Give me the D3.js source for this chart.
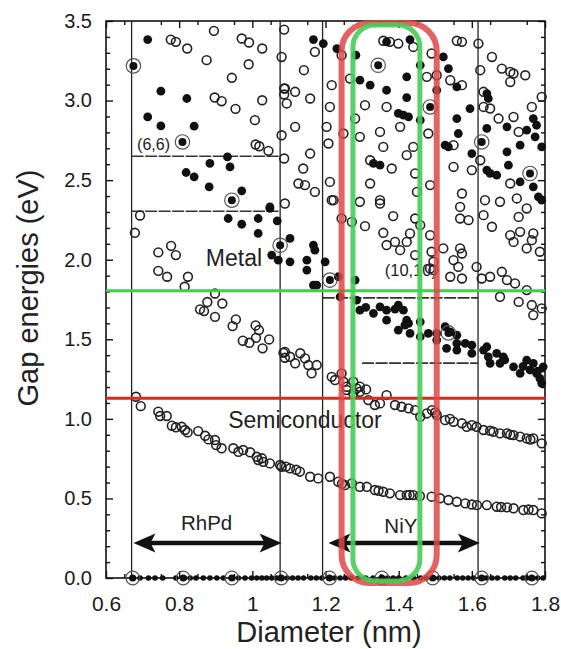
<!DOCTYPE html>
<html><head><meta charset="utf-8">
<script src="https://cdn.jsdelivr.net/npm/d3@7"></script>
<style>body{margin:0;background:#fff}svg{display:block}text{font-family:"Liberation Sans",Arial,sans-serif}</style>
</head><body><svg id="c" width="561" height="649"></svg>
<script>
// ---- data (diameter nm, gap eV) ----
const xTicks = [0.6,0.8,1.0,1.2,1.4,1.6,1.8];
const xTickLabels = ["0.6","0.8","1","1.2","1.4","1.6","1.8"];
const yTicks = [0,0.5,1,1.5,2,2.5,3,3.5];
const yTickLabels = ["0.0","0.5","1.0","1.5","2.0","2.5","3.0","3.5"];

const openPts = [
[0.777,3.383],[0.791,3.369],[0.822,3.327],[0.895,3.438],[0.971,3.390],[0.991,3.365],[1.027,3.327],[0.875,3.254],[0.990,3.228],[0.944,3.143],
[0.897,3.019],[0.916,2.996],[1.027,3.002],[0.954,2.948],[1.007,2.877],[1.009,2.724],[1.019,2.713],[1.044,2.684],[1.080,3.274],[1.087,3.446],
[1.087,3.076],[1.087,3.038],[1.094,2.982],[1.080,2.782],[1.087,2.636],[0.693,2.278],[0.679,2.169],[0.743,2.046],[0.778,2.087],[0.791,2.029],
[0.743,1.930],[0.767,1.893],[0.824,1.893],[0.815,1.830],[0.898,1.788],[0.877,1.734],[0.918,1.725],[0.857,1.688],[0.868,1.677],[0.898,1.641],
[0.955,1.625],[0.946,1.583],[1.009,1.587],[1.018,1.558],[0.974,1.491],[0.992,1.478],[1.010,1.509],[1.046,1.499],[1.028,1.443],[1.085,1.415],
[1.089,1.384],
[0.682,1.139],[0.695,1.080],[0.743,1.045],[0.748,1.018],[0.766,1.018],[0.780,0.957],[0.791,0.947],[0.807,0.950],[0.823,0.915],[0.816,0.930],
[0.852,0.923],[0.871,0.894],[0.880,0.871],[0.898,0.867],[0.901,0.835],[0.916,0.815],[0.948,0.815],[0.962,0.793],[0.975,0.804],[0.994,0.790],
[1.012,0.762],[1.026,0.752],[1.030,0.730],[1.048,0.720],[1.016,0.741],[1.080,0.699],
[1.089,1.421],[1.103,1.390],[1.117,1.349],[1.131,1.412],[1.144,1.380],[1.153,1.338],[1.162,1.286],[1.176,1.338],
[1.217,1.264],[1.226,1.244],[1.244,1.286],[1.249,1.233],[1.258,1.202],[1.276,1.233],[1.285,1.191],[1.294,1.202],[1.311,1.185],
[1.258,1.181],[1.276,1.160],[1.294,1.170],[1.317,1.118],[1.335,1.087],[1.349,1.097],[1.367,1.149],[1.390,1.087],[1.408,1.076],[1.427,1.066],
[1.445,1.055],[1.459,1.013],[1.477,1.034],[1.491,1.055],[1.504,1.024],[1.527,0.992],[1.550,0.982],[1.573,0.972],[1.586,0.950],[1.613,0.950],
[1.632,0.930],[1.659,0.919],[1.677,0.909],[1.696,0.909],[1.714,0.898],[1.732,0.888],[1.750,0.877],[1.768,0.877],[1.791,0.846],
[1.500,1.040],[1.540,1.000],[1.600,0.960],[1.650,0.925],[1.705,0.900],[1.760,0.870],
[1.076,0.710],[1.103,0.689],[1.130,0.668],[1.158,0.636],[1.180,0.626],[1.212,0.636],[1.235,0.605],[1.253,0.584],[1.272,0.595],[1.294,0.573],
[1.313,0.573],[1.335,0.553],[1.358,0.542],[1.376,0.532],[1.404,0.521],[1.422,0.521],[1.440,0.521],[1.458,0.515],[1.490,0.511],[1.513,0.501],
[1.536,0.490],[1.559,0.479],[1.582,0.469],[1.614,0.458],[1.641,0.458],[1.668,0.448],[1.696,0.444],[1.714,0.438],[1.741,0.427],[1.768,0.427],
[1.791,0.406],[1.092,0.700],[1.120,0.680],[1.245,0.592],[1.345,0.548],[1.430,0.522],[1.600,0.462],[1.680,0.446],[1.755,0.430],
[1.222,2.374],[1.244,2.259],[1.272,2.238],[1.308,2.211],[1.294,2.364],[1.349,2.353],[1.385,2.274],[1.358,2.169],[1.367,2.092],[1.390,2.112],
[1.404,2.060],[1.422,2.112],[1.431,2.165],[1.445,2.259],[1.459,2.217],[1.445,2.029],[1.486,2.154],[1.490,2.050],[1.495,1.987],[1.495,1.935],
[1.522,2.071],[1.550,1.997],[1.541,1.893],[1.563,1.955],[1.568,2.071],[1.573,2.039],[1.573,1.882],[1.568,2.332],[1.568,2.259],[1.591,2.249],
[1.613,1.955],[1.632,2.280],[1.627,1.882],[1.650,1.893],[1.655,2.207],[1.677,1.767],[1.682,1.924],[1.696,1.872],[1.705,2.154],[1.714,2.112],
[1.728,2.269],[1.732,2.175],[1.718,1.851],[1.728,1.735],[1.750,1.809],[1.750,2.071],[1.764,2.123],[1.768,2.165],[1.764,1.715],[1.768,1.652],
[1.786,2.050],[1.791,1.694],[1.486,1.945],[1.089,2.353],
[1.171,3.306],[1.141,3.191],[1.089,3.076],[1.117,3.055],[1.158,3.013],[1.117,2.835],[1.158,2.667],[1.139,2.573],[1.126,2.479],[1.144,2.469],
[1.171,2.426],[1.217,3.097],[1.212,2.960],[1.203,2.835],[1.208,2.730],[1.212,2.489],[1.217,2.374],[1.244,3.285],[1.249,2.793],[1.267,3.138],
[1.281,2.887],[1.294,2.772],[1.308,2.971],[1.322,2.625],[1.322,2.479],[1.349,2.803],[1.349,2.374],[1.358,3.376],[1.376,3.369],[1.399,3.358],
[1.404,2.835],[1.358,2.709],[1.367,2.960],[1.381,2.573],[1.422,2.657],[1.440,3.337],[1.440,2.709],[1.445,2.542],[1.450,2.426],[1.477,3.149],
[1.481,2.793],[1.490,3.296],[1.486,2.469],[1.504,3.159],[1.541,3.128],[1.573,3.097],[1.559,3.376],[1.573,3.369],[1.550,2.720],[1.550,2.583],
[1.573,2.416],[1.600,2.563],[1.618,3.358],[1.623,3.191],[1.632,3.055],[1.632,2.960],[1.623,2.625],[1.636,2.374],[1.655,3.274],[1.682,3.201],
[1.705,3.180],[1.714,3.170],[1.746,3.159],[1.705,3.117],[1.650,2.950],[1.673,2.887],[1.714,2.897],[1.728,2.803],[1.764,2.960],[1.791,3.023],
[1.677,2.364],[1.723,2.385],[1.750,2.322],[1.705,2.479]
];

const filledPts = [
[0.714,3.383],[0.750,3.059],[0.821,3.013],[0.714,2.897],[0.750,2.841],[0.841,2.839],[0.819,2.548],[0.841,2.521],[0.884,2.605],[0.939,2.583],
[0.882,2.458],[0.971,2.433],[1.048,2.322],[0.932,2.646],[0.934,2.259],[0.971,2.223],[1.016,2.259],[1.016,2.165],[1.068,2.244],[1.048,2.332],
[1.053,2.029],[1.071,1.997],
[1.103,2.134],[1.103,1.987],[1.149,1.997],[1.149,1.935],[1.167,2.092],[1.171,2.060],[1.199,1.987],[1.167,1.840],[1.176,1.840],[1.235,1.893],
[1.240,1.767],[1.281,1.872],[1.285,1.746],[1.294,1.683],[1.331,1.663],[1.349,1.704],[1.367,1.683],[1.367,1.620],[1.399,1.715],[1.413,1.683],
[1.422,1.620],[1.417,1.589],[1.431,1.537],[1.399,1.558],[1.459,1.610],[1.459,1.516],[1.481,1.537],[1.504,1.537],[1.504,1.495],[1.527,1.579],
[1.531,1.443],[1.541,1.547],[1.559,1.526],[1.559,1.474],[1.559,1.432],[1.582,1.474],[1.600,1.463],[1.600,1.411],[1.632,1.432],[1.641,1.453],
[1.645,1.390],[1.650,1.349],[1.668,1.411],[1.686,1.390],[1.677,1.349],[1.714,1.327],[1.732,1.286],[1.750,1.369],[1.759,1.307],[1.768,1.349],
[1.777,1.286],[1.786,1.254],[1.795,1.327],[1.791,1.223],[1.310,1.700],[1.390,1.690],[1.427,1.600],[1.690,1.370],[1.740,1.330],[1.780,1.300],
[1.167,3.383],[1.194,3.358],[1.231,3.327],[1.283,3.285],[1.294,3.128],[1.322,3.097],[1.367,3.065],[1.422,3.149],[1.422,3.019],[1.367,3.369],
[1.431,3.383],[1.459,3.222],[1.399,2.919],[1.413,2.908],[1.427,2.897],[1.459,2.877],[1.504,3.065],[1.522,3.274],[1.536,3.201],[1.559,3.086],
[1.559,2.887],[1.563,2.793],[1.595,2.950],[1.600,2.667],[1.527,2.720],[1.536,2.709],[1.331,2.605],[1.349,2.594],[1.641,3.044],[1.645,3.013],
[1.641,2.825],[1.641,2.563],[1.650,2.542],[1.668,2.531],[1.696,2.678],[1.700,2.594],[1.696,2.835],[1.732,2.720],[1.732,2.489],[1.750,2.814],
[1.773,2.772],[1.768,2.458],[1.782,2.395],[1.791,2.709],[1.791,2.374],[1.777,2.845],[1.768,2.887]
];

const circledPts = [[0.675,3.218],[0.809,2.740],[0.944,2.374],[1.076,2.091],[1.212,1.872],[1.344,3.222],[1.486,2.960],[1.627,2.740],[1.759,2.542],[1.536,1.540]];

const zeroDots = [0.673,0.693,0.716,0.734,0.755,0.791,0.814,0.830,0.846,0.866,0.884,0.903,0.921,0.944,0.962,0.980,0.998,1.012,1.026,1.039,1.053,1.067,1.078,
1.095,1.110,1.125,1.140,1.160,1.175,1.190,1.225,1.240,1.255,1.270,1.290,1.310,1.330,1.370,1.385,1.400,1.420,1.440,1.460,1.475,1.510,1.525,1.540,
1.560,1.575,1.590,1.605,1.640,1.655,1.670,1.690,1.705,1.720,1.740,1.750,1.780,1.795];
const zeroCircled = [0.673,0.811,0.944,1.079,1.211,1.354,1.493,1.627,1.764];

const vLines = [0.670,1.076,1.192,1.617];
const hSegs = [[0.670,1.076,2.65],[0.670,1.076,2.305],[1.192,1.617,1.76],[1.30,1.617,1.35]];
const greenLevel = 1.805, redLevel = 1.13;
const redBox = [1.244,1.504], greenBox = [1.275,1.458];
const arrows = [[0.675,1.080],[1.208,1.622]];

// ---- drawing ----
const svg = d3.select("#c");
const L=106,R=545,T=21,B=578;
const x = d3.scaleLinear().domain([0.6,1.8]).range([L,R]);
const y = d3.scaleLinear().domain([0,3.5]).range([B,T]);

svg.append("rect").attr("x",L).attr("y",T).attr("width",R-L).attr("height",B-T)
  .attr("fill","none").attr("stroke","#111").attr("stroke-width",1.6);

const minorX = d3.range(12).map(i=>0.65+i*0.1);
svg.append("g").attr("transform",`translate(0,${B})`)
  .call(d3.axisBottom(x).tickValues(xTicks).tickSize(-7).tickPadding(18)
    .tickFormat((d,i)=>xTickLabels[i])).attr("class","ax lab x");
svg.append("g").attr("transform",`translate(0,${B})`)
  .call(d3.axisBottom(x).tickValues(minorX).tickSize(-4).tickFormat(""));
svg.append("g").attr("transform",`translate(0,${T})`)
  .call(d3.axisTop(x).tickValues(xTicks).tickSize(-7).tickFormat(""));
svg.append("g").attr("transform",`translate(0,${T})`)
  .call(d3.axisTop(x).tickValues(minorX).tickSize(-4).tickFormat(""));
svg.append("g").attr("transform",`translate(${L},0)`)
  .call(d3.axisLeft(y).tickValues(yTicks).tickSize(-7).tickPadding(14)
    .tickFormat((d,i)=>yTickLabels[i])).attr("class","ax lab y");
const minorY = d3.range(36).map(i=>i*0.1).filter(v=>Math.abs(v*2-Math.round(v*2))>0.01);
svg.append("g").attr("transform",`translate(${L},0)`).call(d3.axisLeft(y).tickValues(minorY).tickSize(-4).tickFormat(""));
svg.append("g").attr("transform",`translate(${R},0)`).call(d3.axisRight(y).tickValues(yTicks).tickSize(-7).tickFormat(""));
svg.append("g").attr("transform",`translate(${R},0)`).call(d3.axisRight(y).tickValues(minorY).tickSize(-4).tickFormat(""));
svg.selectAll(".domain").remove();
svg.selectAll(".tick line").attr("stroke","#111").attr("stroke-width",1.4);
svg.selectAll(".tick text").attr("fill","#1a1a1a").attr("font-family","'Liberation Sans',Arial,sans-serif");
svg.selectAll(".x .tick text").attr("font-size",21);
svg.selectAll(".y .tick text").attr("font-size",20);

svg.selectAll(".vl").data(vLines).enter().append("line")
  .attr("x1",d=>x(d)).attr("x2",d=>x(d)).attr("y1",T).attr("y2",B)
  .attr("stroke","#222").attr("stroke-width",1.3);
svg.selectAll(".hs").data(hSegs).enter().append("line")
  .attr("x1",d=>x(d[0])).attr("x2",d=>x(d[1])).attr("y1",d=>y(d[2])).attr("y2",d=>y(d[2]))
  .attr("stroke","#333").attr("stroke-width",1.6).attr("stroke-dasharray","12,1.5");

svg.selectAll(".op").data(openPts).enter().append("circle")
  .attr("cx",d=>x(d[0])).attr("cy",d=>y(d[1])).attr("r",4.4)
  .attr("fill","none").attr("stroke","#222").attr("stroke-width",1.6);
svg.selectAll(".fp").data(filledPts).enter().append("circle")
  .attr("cx",d=>x(d[0])).attr("cy",d=>y(d[1])).attr("r",4.4).attr("fill","#111");
const cg = svg.selectAll(".cp").data(circledPts).enter().append("g");
cg.append("circle").attr("cx",d=>x(d[0])).attr("cy",d=>y(d[1])).attr("r",7.2)
  .attr("fill","none").attr("stroke","#555").attr("stroke-width",1.2);
cg.append("circle").attr("cx",d=>x(d[0])).attr("cy",d=>y(d[1])).attr("r",4).attr("fill","#111");
svg.selectAll(".zd").data(zeroDots).enter().append("circle")
  .attr("cx",d=>x(d)).attr("cy",y(0)).attr("r",2.8).attr("fill","#111");
svg.selectAll(".zc").data(zeroCircled).enter().append("circle")
  .attr("cx",d=>x(d)).attr("cy",y(0)).attr("r",6.8).attr("fill","none").attr("stroke","#555").attr("stroke-width",1.2);
svg.selectAll(".zc2").data(zeroCircled).enter().append("circle")
  .attr("cx",d=>x(d)).attr("cy",y(0)).attr("r",3.6).attr("fill","#111");

function txt(t,xx,yy,fs,anchor){svg.append("text").attr("x",xx).attr("y",yy).attr("font-size",fs)
  .attr("text-anchor",anchor||"start").attr("fill","#222").text(t);}
txt("(6,6)",x(0.685),y(2.69),16);
txt("Metal",x(0.873),y(1.96),23);
txt("(10,10)",x(1.362),y(1.895),16.5);
txt("Semiconductor",x(0.934),y(0.943),23);
txt("RhPd",x(0.875),y(0.30),20.5,"middle");
txt("NiY",x(1.406),y(0.285),20.5,"middle");

// double-headed arrows
const ay = y(0.22);
arrows.forEach(a=>{
  const x0=x(a[0]), x1=x(a[1]);
  svg.append("line").attr("x1",x0+15).attr("x2",x1-15).attr("y1",ay).attr("y2",ay)
    .attr("stroke","#111").attr("stroke-width",4.5);
  svg.append("path").attr("d",`M${x0},${ay} L${x0+22},${ay-9.5} L${x0+17},${ay} L${x0+22},${ay+9.5} Z`).attr("fill","#111");
  svg.append("path").attr("d",`M${x1},${ay} L${x1-22},${ay-9.5} L${x1-17},${ay} L${x1-22},${ay+9.5} Z`).attr("fill","#111");
});

svg.append("text").attr("x",329).attr("y",642).attr("text-anchor","middle").attr("font-size",29).attr("fill","#222").text("Diameter (nm)");
svg.append("text").attr("transform",`translate(38,288) rotate(-90)`).attr("text-anchor","middle").attr("font-size",29).attr("fill","#222").text("Gap energies (eV)");

svg.append("line").attr("x1",L).attr("x2",R).attr("y1",y(greenLevel)).attr("y2",y(greenLevel)).attr("stroke","#3fcf48").attr("stroke-width",3);
svg.append("line").attr("x1",L).attr("x2",R).attr("y1",y(redLevel)).attr("y2",y(redLevel)).attr("stroke","#d92a1e").attr("stroke-width",3);
svg.append("rect").attr("x",x(redBox[0])).attr("y",T+2).attr("width",x(redBox[1])-x(redBox[0])).attr("height",B+5-T-2)
  .attr("rx",28).attr("fill","none").attr("stroke","rgba(222,70,70,0.85)").attr("stroke-width",6);
svg.append("rect").attr("x",x(greenBox[0])).attr("y",T+4).attr("width",x(greenBox[1])-x(greenBox[0])).attr("height",B+3-T-4)
  .attr("rx",22).attr("fill","none").attr("stroke","rgba(70,205,85,0.9)").attr("stroke-width",5);
</script></body></html>
